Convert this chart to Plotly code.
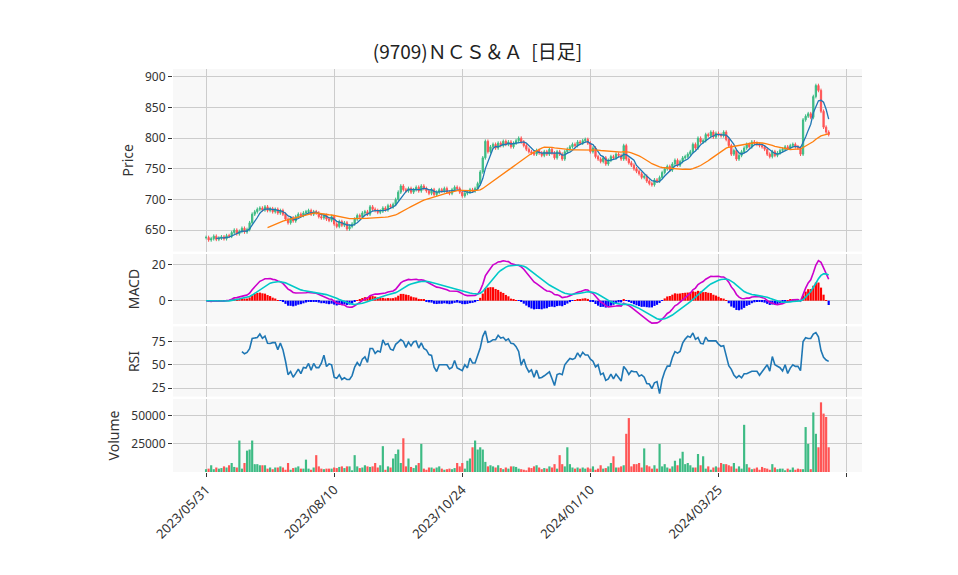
import pandas as pd
import numpy as np
import plotly.graph_objects as go
from plotly.subplots import make_subplots

title = "(9709)ＮＣＳ＆Ａ  [日足]"
tick_labels = ["2023/05/31", "2023/08/10", "2023/10/24", "2024/01/10", "2024/03/25", ""]
tick_index = [0, 50, 100, 150, 200, 250]

close = [
    638,634,636,640,635,637,639,636,641,
    640,646,650,644,648,653,647,651,662,
    676,680,684,686,683,688,682,685,
    680,684,678,682,676,668,662,670,
    665,672,676,674,678,680,682,676,680,678,672,670,
    674,668,666,672,660,656,664,658,662,652,656,660,
    668,674,672,678,680,676,688,684,682,679,681,686,683,690,688,692,
    700,712,722,716,714,718,712,
    716,720,714,722,718,714,710,716,708,712,716,714,718,712,710,716,720,718,712,706,
    710,712,716,714,718,726,
    745,768,795,778,786,790,
    784,792,788,795,790,794,786,792,796,800,794,788,
    782,778,776,774,780,776,772,778,774,782,776,768,778,774,766,778,782,
    786,790,788,794,792,796,798,792,778,784,770,
    766,762,768,758,764,770,768,774,772,766,788,
    766,760,756,750,746,742,736,738,730,726,724,732,730,
    736,744,750,754,748,758,764,756,762,768,770,774,778,
    790,784,800,794,796,806,804,810,802,808,806,804,810,798,
    788,774,780,766,772,778,
    784,790,786,794,792,790,788,786,782,
    774,770,778,772,776,780,782,786,784,788,790,786,784,
    774,
    830,836,840,834,
    868,886,878,
    844,818,810,806,
]

volume = [
    2500,3000,6000,2500,4000,3000,3500,5000,4000,6000,
    8000,4500,4000,28000,3000,8000,19000,20000,28000,7000,
    7000,6000,6000,6000,3000,4000,2500,4000,4000,5000,
    4000,2000,8000,2000,3500,4000,5000,3000,3000,11000,
    3000,2000,4000,15000,5000,3000,2500,3000,3000,3000,
    4000,3500,4500,5000,3500,5000,5000,1500,15000,5000,
    3500,4000,6000,5000,4500,5000,8000,4000,6000,23000,
    2000,5000,4000,12000,16000,20000,8000,30000,5000,12000,
    4500,3500,6000,8000,25000,3000,2000,4000,4000,3000,
    4000,5000,3000,2000,2500,3000,2500,3500,8000,5000,
    8000,3000,10000,12000,22000,28000,20000,22000,20000,9000,
    5000,6000,5000,4000,6000,3500,2500,4000,3000,5000,
    5000,4500,3000,2500,2000,1500,4000,3500,5000,6000,
    4000,2500,3500,3000,5000,4000,7000,3000,15000,7000,
    5000,22000,7000,4000,3000,4000,3000,4000,3000,4000,
    3000,5000,2000,3000,6000,3000,3500,5000,8000,14000,
    4000,4000,5000,6000,34000,48000,5000,7000,7000,8000,
    4000,21000,6000,5000,3000,6000,3000,25000,5000,7000,
    4000,3000,5000,10000,6000,12000,18000,7000,8000,6000,
    4000,4000,16000,6000,14000,3000,5000,2000,4000,5000,
    4000,8000,7000,7000,6000,5000,8000,3000,5000,3000,
    42000,7000,4000,2500,3000,4000,2000,4500,3500,3000,
    2000,7000,4000,2500,3000,3000,1500,3000,2000,4000,
    2000,3000,2500,2500,40000,25000,2500,53000,34000,22000,
    62000,52000,49000,22000,
]

n = min(len(close), len(volume))
close = close[:n]
volume = volume[:n]
df = pd.DataFrame({"close": close, "volume": volume})
df["x"] = np.arange(n)
df["open"] = df["close"].shift(1).fillna(df["close"])
df["high"] = df[["open", "close"]].max(axis=1) + 3
df["low"] = df[["open", "close"]].min(axis=1) - 3
df["ma5"] = df["close"].rolling(5).mean()
df["ma25"] = df["close"].rolling(25).mean()
ema12 = df["close"].ewm(span=12, adjust=False).mean()
ema26 = df["close"].ewm(span=26, adjust=False).mean()
df["macd"] = ema12 - ema26
df["signal"] = df["macd"].ewm(span=9, adjust=False).mean()
df["hist"] = df["macd"] - df["signal"]
d = df["close"].diff()
up = d.clip(lower=0).rolling(14).mean()
dn = (-d.clip(upper=0)).rolling(14).mean()
df["rsi"] = 100 * up / (up + dn)

UP, DOWN = "#3dbb84", "#ff5555"

fig = make_subplots(rows=4, cols=1, shared_xaxes=True, vertical_spacing=0.006,
                    row_heights=[185, 71, 71, 74])
fig.add_trace(go.Candlestick(x=df["x"], open=df["open"], high=df["high"], low=df["low"], close=df["close"],
                             increasing=dict(line=dict(color=UP, width=1), fillcolor=UP),
                             decreasing=dict(line=dict(color=DOWN, width=1), fillcolor=DOWN),
                             whiskerwidth=0, showlegend=False), row=1, col=1)
fig.add_trace(go.Scatter(x=df["x"], y=df["ma5"], mode="lines", line=dict(color="#1f77b4", width=1.3), showlegend=False), row=1, col=1)
fig.add_trace(go.Scatter(x=df["x"], y=df["ma25"], mode="lines", line=dict(color="#ff7f0e", width=1.3), showlegend=False), row=1, col=1)

fig.add_trace(go.Bar(x=df["x"], y=df["hist"], marker_color=np.where(df["hist"] >= 0, "red", "blue"),
                     marker_line_width=0, showlegend=False), row=2, col=1)
fig.add_trace(go.Scatter(x=df["x"], y=df["macd"], mode="lines", line=dict(color="#cc00cc", width=1.6), showlegend=False), row=2, col=1)
fig.add_trace(go.Scatter(x=df["x"], y=df["signal"], mode="lines", line=dict(color="#00c8c8", width=1.6), showlegend=False), row=2, col=1)

fig.add_trace(go.Scatter(x=df["x"], y=df["rsi"], mode="lines", line=dict(color="#1f77b4", width=1.6), showlegend=False), row=3, col=1)

fig.add_trace(go.Bar(x=df["x"], y=df["volume"], marker_color=np.where(df["close"] >= df["open"], UP, DOWN),
                     marker_line_width=0, showlegend=False), row=4, col=1)

fig.update_layout(
    width=958, height=575, margin=dict(l=165, r=104, t=61, b=111, autoexpand=False),
    paper_bgcolor="white", plot_bgcolor="#f8f8f8", bargap=0.15,
    font=dict(family="Noto Sans", size=12, color="#333"),
    title=dict(text=title, x=0.49, y=0.935, xanchor="center",
               font=dict(family="Noto Sans CJK JP", size=19, color="#222")),
    xaxis_rangeslider_visible=False,
)
for r in range(1, 5):
    fig.update_xaxes(row=r, col=1, range=[-12.9, 256], tickvals=tick_index, ticktext=tick_labels,
                     showgrid=True, gridcolor="#cccccc", zeroline=False, automargin=False,
                     showticklabels=(r == 4), rangeslider_visible=False)
fig.update_xaxes(row=4, col=1, tickangle=-45, ticks="outside", ticklen=4, tickcolor="#333",
                 tickfont=dict(size=13))
fig.update_yaxes(gridcolor="#cccccc", zeroline=False, automargin=False, title_standoff=8,
                 ticks="outside", ticklen=4, tickcolor="#333")
fig.update_yaxes(row=1, col=1, range=[615, 913], tickvals=[650, 700, 750, 800, 850, 900], title_text="Price")
fig.update_yaxes(row=2, col=1, range=[-13, 26], tickvals=[0, 20], title_text="MACD")
fig.update_yaxes(row=3, col=1, range=[16, 91], tickvals=[25, 50, 75], title_text="RSI")
fig.update_yaxes(row=4, col=1, range=[0, 65000], tickvals=[25000, 50000], tickformat="d", title_text="Volume")

fig.write_html("out.html")
